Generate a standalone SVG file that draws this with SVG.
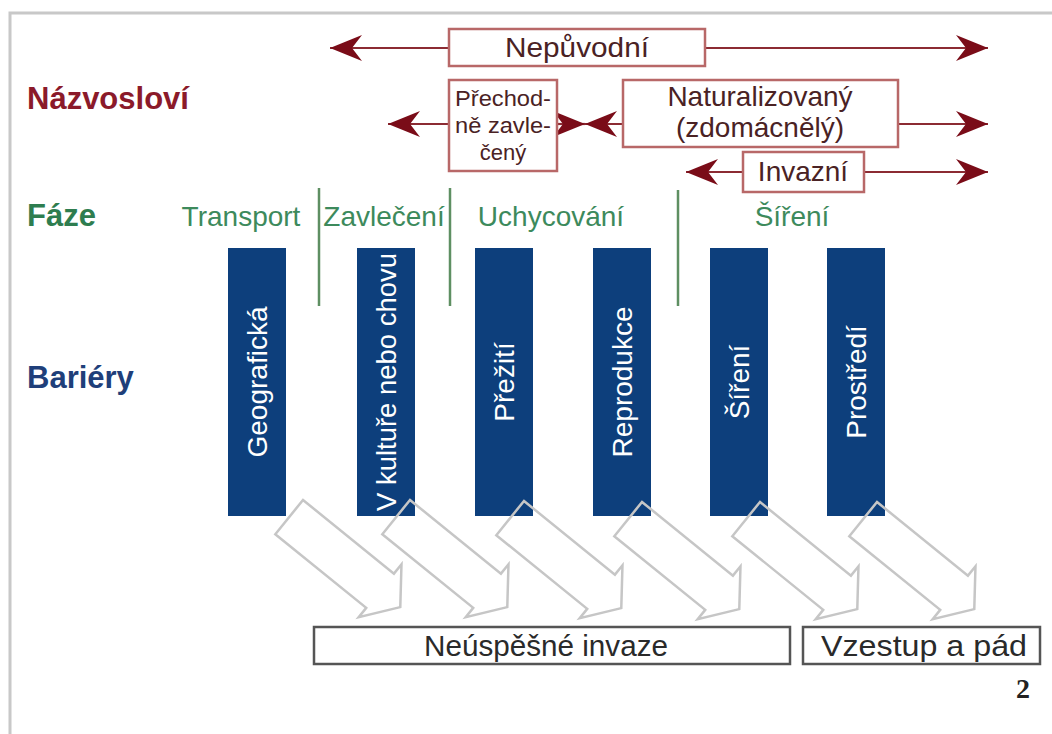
<svg xmlns="http://www.w3.org/2000/svg" width="1052" height="734" viewBox="0 0 1052 734">
<defs>
<marker id="ah" markerUnits="userSpaceOnUse" markerWidth="32" markerHeight="28" viewBox="-32 -14 32 28" refX="0" refY="0" orient="auto">
<path d="M0,0 L-32,-13 L-22,0 L-32,13 Z" fill="#7a0c18"/>
</marker>
<polygon id="barr" points="0,0 117,0 117,-12 143,22 117,56 117,44 0,44"/>
</defs>
<style>
.frame{fill:none;stroke:#c8c8c8;stroke-width:3}
.rbox{fill:#fff;stroke:#b86868;stroke-width:2.5}
.rtxt{font-family:"Liberation Sans",Arial,sans-serif;font-size:28px;fill:#4a2224;text-anchor:middle}
.rtxt2{font-family:"Liberation Sans",Arial,sans-serif;font-size:22px;fill:#4a2224;text-anchor:middle}
.rline{stroke:#8c2b33;stroke-width:2.2;fill:none;marker-end:url(#ah)}
.head{font-family:"Liberation Sans",Arial,sans-serif;font-size:31px;font-weight:bold}
.phase{font-family:"Liberation Sans",Arial,sans-serif;font-size:28px;fill:#3d8a5c;text-anchor:middle}
.gline{stroke:#5e8f62;stroke-width:2.5}
.bar{fill:#0d3f7c}
.btxt{font-family:"Liberation Sans",Arial,sans-serif;font-size:28px;fill:#fff;text-anchor:middle}
.garr{fill:none;stroke:#c6c6c6;stroke-width:2.5;stroke-linejoin:miter}
.gbox{fill:#fff;stroke:#555;stroke-width:2.5}
.gtxt{font-family:"Liberation Sans",Arial,sans-serif;font-size:30px;fill:#2a2a2a;text-anchor:middle}
</style>
<rect width="1052" height="734" fill="#fff"/>
<path class="frame" d="M10,734 V13 H1052"/>

<g id="labels">
<text class="head" x="27" y="109" fill="#8b1a2a">Názvosloví</text>
<text class="head" x="27" y="226" fill="#2e7d4f">Fáze</text>
<text class="head" x="27" y="388" fill="#1f3f7a">Bariéry</text>
</g>

<g id="connectors">
<line class="rline" x1="449" y1="48" x2="330" y2="48"/>
<line class="rline" x1="705" y1="48" x2="988" y2="48"/>
<line class="rline" x1="449" y1="124" x2="388" y2="124"/>
<line class="rline" x1="557" y1="124" x2="585" y2="124"/>
<line class="rline" x1="623" y1="124" x2="585" y2="124"/>
<line class="rline" x1="898" y1="124" x2="988" y2="124"/>
<line class="rline" x1="743" y1="172" x2="686" y2="172"/>
<line class="rline" x1="864" y1="172" x2="988" y2="172"/>
</g>

<g id="nepuvodni">
<rect class="rbox" x="449" y="29" width="256" height="37"/>
<text class="rtxt" x="577" y="57" textLength="144" lengthAdjust="spacingAndGlyphs">Nepůvodní</text>
</g>
<g id="prechodne">
<rect class="rbox" x="449" y="80" width="108" height="91"/>
<text class="rtxt2" x="503" y="106" textLength="96" lengthAdjust="spacingAndGlyphs">Přechod-</text>
<text class="rtxt2" x="503" y="133" textLength="96" lengthAdjust="spacingAndGlyphs">ně zavle-</text>
<text class="rtxt2" x="503" y="160">čený</text>
</g>
<g id="naturalizovany">
<rect class="rbox" x="623" y="80" width="275" height="67"/>
<text class="rtxt" x="760" y="106">Naturalizovaný</text>
<text class="rtxt" x="760" y="137">(zdomácnělý)</text>
</g>
<g id="invazni">
<rect class="rbox" x="743" y="152" width="121" height="40"/>
<text class="rtxt" x="803" y="181">Invazní</text>
</g>

<g id="phases">
<text class="phase" x="241" y="226">Transport</text>
<text class="phase" x="384" y="226">Zavlečení</text>
<text class="phase" x="551" y="226">Uchycování</text>
<text class="phase" x="792" y="226">Šíření</text>
<line class="gline" x1="319" y1="188" x2="319" y2="306"/>
<line class="gline" x1="450" y1="188" x2="450" y2="306"/>
<line class="gline" x1="678" y1="190" x2="678" y2="306"/>
</g>

<g id="bar-geograficka"><rect class="bar" x="228" y="248" width="58" height="268"/><text class="btxt" transform="translate(267,382) rotate(-90)">Geografická</text></g>
<g id="bar-kultura"><rect class="bar" x="357" y="248" width="58" height="268"/><text class="btxt" transform="translate(396,382) rotate(-90)" textLength="258" lengthAdjust="spacingAndGlyphs">V kultuře nebo chovu</text></g>
<g id="bar-preziti"><rect class="bar" x="475" y="248" width="58" height="268"/><text class="btxt" transform="translate(514,382) rotate(-90)">Přežití</text></g>
<g id="bar-reprodukce"><rect class="bar" x="593" y="248" width="58" height="268"/><text class="btxt" transform="translate(632,382) rotate(-90)">Reprodukce</text></g>
<g id="bar-sireni"><rect class="bar" x="710" y="248" width="58" height="268"/><text class="btxt" transform="translate(749,382) rotate(-90)">Šíření</text></g>
<g id="bar-prostredi"><rect class="bar" x="827" y="248" width="58" height="268"/><text class="btxt" transform="translate(866,382) rotate(-90)">Prostředí</text></g>

<g id="flow-arrows">
<use href="#barr" class="garr" transform="translate(303,500) rotate(39)"/>
<use href="#barr" class="garr" transform="translate(410,500) rotate(39)"/>
<use href="#barr" class="garr" transform="translate(524,501) rotate(39)"/>
<use href="#barr" class="garr" transform="translate(642,502) rotate(39)"/>
<use href="#barr" class="garr" transform="translate(760,502) rotate(39)"/>
<use href="#barr" class="garr" transform="translate(877,502) rotate(39)"/>
</g>

<g id="neuspesne">
<rect class="gbox" x="314" y="627" width="476" height="37"/>
<text class="gtxt" x="546" y="656" textLength="244" lengthAdjust="spacingAndGlyphs">Neúspěšné invaze</text>
</g>
<g id="vzestup">
<rect class="gbox" x="803" y="627" width="237" height="37"/>
<text class="gtxt" x="924" y="656" textLength="206" lengthAdjust="spacingAndGlyphs">Vzestup a pád</text>
</g>
<text x="1030" y="698" font-family="Liberation Serif,serif" font-weight="bold" font-size="28" fill="#222" text-anchor="end">2</text>
</svg>
